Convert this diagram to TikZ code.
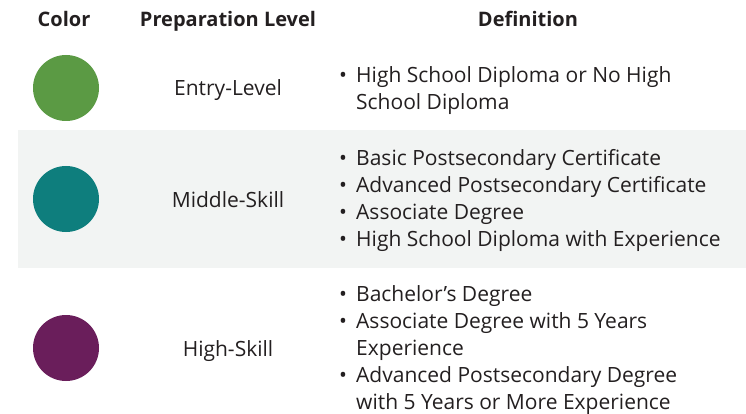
\documentclass[tikz,border=0pt]{standalone}
\usepackage{fontspec}
\setmainfont{Open Sans}
\definecolor{entry}{HTML}{5B9A44}
\definecolor{middle}{HTML}{0E7E7D}
\definecolor{high}{HTML}{6A1E5B}
\definecolor{band}{HTML}{F2F4F3}
\definecolor{ink}{HTML}{231F20}
\tikzset{
  txt/.style={text=ink, inner sep=0pt, font=\fontsize{21}{24}\selectfont},
  head/.style={txt, anchor=base, font=\fontsize{20}{24}\selectfont\bfseries},
  dot/.style={circle, inner sep=0pt, minimum size=66pt}
}
\begin{document}
\begin{tikzpicture}[x=1pt, y=-1pt]
\useasboundingbox (0,0) rectangle (746,414);

% middle row band
\fill[band] (18,130) rectangle (746,268);

\node[head] (h_color) at (64,27) {Color};
\node[head] (h_level) at (228,27) {Preparation Level};
\node[head] (h_def) at (528,27) {Definition};

\foreach \i/\y/\c/\l in%
    {0/88/entry/Entry-Level,
     1/199/middle/Middle-Skill,
     2/348/high/High-Skill} {
  \node[dot, fill=\c] (c_\i) at (66,\y) {};
  \node[txt, anchor=base] (l_\i) at (228,\y+8) {\l};
}

\foreach \y/\b/\t [count=\i] in%
    {83/1/High School Diploma or No High,
     110/0/School Diploma,
     165/1/Basic Postsecondary Certificate,
     192/1/Advanced Postsecondary Certificate,
     219/1/Associate Degree,
     246/1/High School Diploma with Experience,
     301/1/Bachelor’s Degree,
     328/1/Associate Degree with 5 Years,
     355/0/Experience,
     382/1/Advanced Postsecondary Degree,
     409/0/with 5 Years or More Experience} {
  \node[txt, anchor=base west] (d_\i) at (356,\y) {\t};
  \ifnum\b=1
    \node[txt, anchor=base] (b_\i) at (343,\y) {•};
  \fi
}

\end{tikzpicture}
\end{document}
